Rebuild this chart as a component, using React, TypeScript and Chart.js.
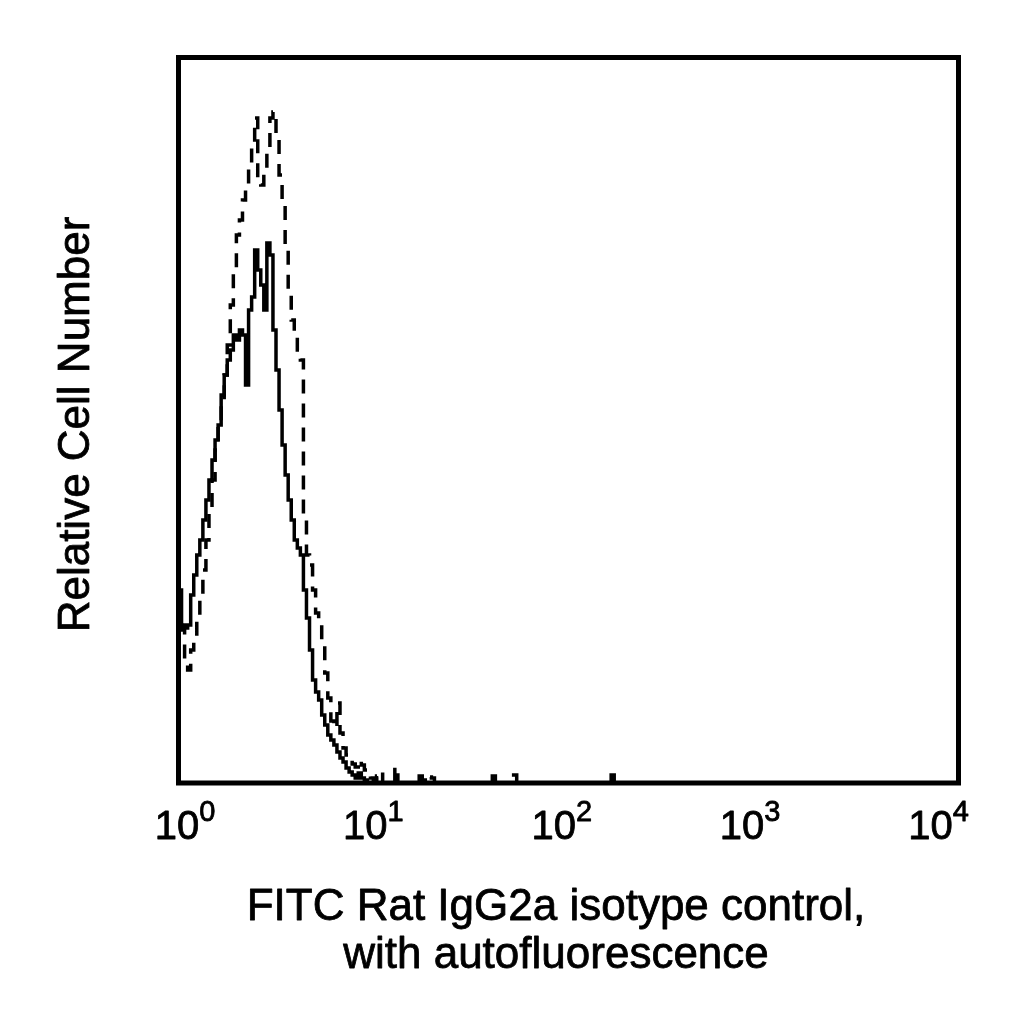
import React, { useEffect, useRef } from "react";
import { Chart, registerables } from "chart.js";

Chart.register(...registerables);

// 256-channel histogram (4 log decades), relative counts
const CHANNEL_COUNT = 256;
const Y_MAX = 725.5;

const DECADES = [0, 1, 2, 3, 4];
const DECADE_EXPONENTS = ["0", "1", "2", "3", "4"];

const X_TITLE = ["FITC Rat IgG2a isotype control,", "with autofluorescence"];
const Y_TITLE = "Relative Cell Number";

// solid line: stained sample
const SOLID = [
  193, 158, 155, 158, 188, 208, 228, 243, 263, 283,
  303, 323, 343, 358, 388, 408, 423, 433, 448, 443,
  453, 448, 398, 473, 486, 533, 513, 498, 473, 540,
  528, 453, 413, 373, 338, 308, 283, 263, 243, 235,
  228, 193, 165, 133, 103, 91, 83, 68, 58, 48,
  43, 38, 31, 25, 21, 15, 11, 8, 5, 10,
  5, 3, 0, 0, 4, 0, 0, 0, 0, 0,
  0, 0, 0, 0, 0, 0, 0, 0, 0, 7,
  3, 0, 0, 0, 0, 0, 0, 0, 0, 0,
  0, 0, 0, 0, 0, 0, 0, 0, 0, 0,
  0, 0, 0, 7, 0, 0, 0, 0, 0, 0,
  0, 0, 0, 0, 0, 0, 0, 0, 0, 0,
  0, 0, 0, 0, 0, 0, 0, 0, 0, 0,
  0, 0, 0, 0, 0, 0, 0, 0, 0, 0,
  0, 0, 8, 0, 0, 0,
];

// dashed line: autofluorescence / unstained
const DASHED = [
  158, 153, 123, 113, 133, 143, 168, 188, 213, 243,
  273, 303, 333, 358, 383, 408, 438, 478, 513, 548,
  563, 583, 593, 618, 638, 665, 605, 598, 611, 633,
  665, 671, 648, 608, 578, 538, 493, 463, 448, 433,
  423, 263, 228, 218, 193, 170, 160, 140, 110, 85,
  62, 55, 80, 50, 35, 28, 23, 19, 16, 23,
  18, 13, 8, 5, 3, 7, 11, 0, 0, 0,
  0, 16, 0, 0, 0, 0, 0, 0, 0, 0,
  0, 0, 6, 5, 0, 0, 0, 0, 0, 0,
  0, 0, 0, 0, 0, 0, 0, 0, 0, 0,
  0, 0, 0, 0, 0, 0, 0, 0, 0, 0,
  8, 0, 0, 0, 0, 0, 0, 0, 0, 0,
  0, 0, 0, 0, 0, 0, 0, 0, 0, 0,
  0, 0, 0, 0, 0, 0, 0, 0, 0, 0,
  0, 0, 0, 0, 0, 0,
];

const FONT = '"Liberation Sans", Arial, Helvetica, sans-serif';

export default function App() {
  const ref = useRef<HTMLCanvasElement>(null);

  useEffect(() => {
    const canvas = ref.current;
    if (!canvas) return;

    const drawText = (ctx: CanvasRenderingContext2D, text: string, x: number, y: number) => {
      ctx.fillText(text, x, y);
      ctx.strokeText(text, x, y);
    };

    const decor = {
      id: "decor",
      afterDraw(chart: any) {
        const ctx = chart.ctx as CanvasRenderingContext2D;
        const a = chart.chartArea;
        ctx.save();
        ctx.strokeStyle = "#000";
        ctx.lineWidth = 5;
        ctx.lineJoin = "miter";
        ctx.strokeRect(a.left, a.top, a.right - a.left, a.bottom - a.top);

        const xd = chart.scales.xd;
        ctx.fillStyle = "#000";
        ctx.lineWidth = 0.8;
        ctx.lineJoin = "round";
        ctx.textBaseline = "alphabetic";
        ctx.textAlign = "left";
        DECADES.forEach((d, i) => {
          const cx = xd.getPixelForValue(d);
          ctx.font = `40px ${FONT}`;
          const w1 = ctx.measureText("10").width;
          ctx.font = `29px ${FONT}`;
          const w2 = ctx.measureText(DECADE_EXPONENTS[i]).width;
          const sx = cx - (w1 + w2) / 2;
          ctx.font = `40px ${FONT}`;
          drawText(ctx, "10", sx, 839);
          ctx.font = `29px ${FONT}`;
          drawText(ctx, DECADE_EXPONENTS[i], sx + w1, 821);
        });

        ctx.font = `44px ${FONT}`;
        ctx.textAlign = "center";
        drawText(ctx, X_TITLE[0], 556, 920);
        drawText(ctx, X_TITLE[1], 556, 968);

        ctx.translate(89, 424.5);
        ctx.rotate(-Math.PI / 2);
        drawText(ctx, Y_TITLE, 0, 0);
        ctx.restore();
      },
    };

    const chart = new Chart(canvas, {
      type: "line",
      data: {
        datasets: [
          {
            label: "Autofluorescence",
            data: DASHED.map((v, i) => ({ x: i + 0.5, y: v })),
            borderColor: "#000",
            borderWidth: 3.5,
            borderDash: [14, 10],
            stepped: "middle",
            pointRadius: 0,
            fill: false,
            xAxisID: "x",
            yAxisID: "y",
          },
          {
            label: "FITC Rat IgG2a isotype control",
            data: SOLID.map((v, i) => ({ x: i + 0.5, y: v })),
            borderColor: "#000",
            borderWidth: 3.5,
            stepped: "middle",
            pointRadius: 0,
            fill: false,
            xAxisID: "x",
            yAxisID: "y",
          },
        ],
      },
      options: {
        responsive: false,
        animation: false,
        devicePixelRatio: 1,
        layout: { padding: { left: 178.5, right: 65.5, top: 57.5, bottom: 241 } },
        plugins: {
          legend: { display: false },
          tooltip: { enabled: false },
          title: { display: false },
        },
        scales: {
          x: { type: "linear", min: 0, max: CHANNEL_COUNT, display: false },
          xd: { type: "linear", axis: "x", position: "bottom", min: -0.0345, max: 4.106, display: false },
          y: { type: "linear", min: 0, max: Y_MAX, display: false },
        },
      },
      plugins: [decor],
    });

    return () => chart.destroy();
  }, []);

  return (
    <div style={{ position: "absolute", left: 0, top: 0, width: 1024, height: 1024, background: "#fff" }}>
      <canvas ref={ref} width={1024} height={1024} style={{ width: 1024, height: 1024, display: "block" }} />
    </div>
  );
}
